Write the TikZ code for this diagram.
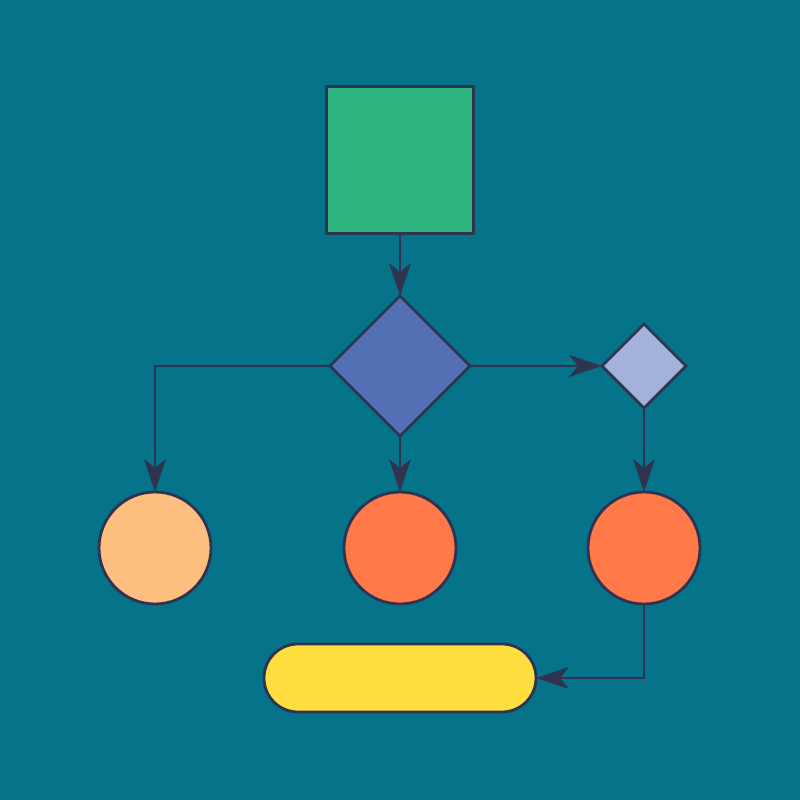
\documentclass[tikz,border=0pt]{standalone}
\usetikzlibrary{shapes.geometric,shapes.misc,arrows.meta}
\definecolor{bg}{HTML}{05748A}
\definecolor{ink}{HTML}{2E3350}
\definecolor{cgreen}{HTML}{2DB47F}
\definecolor{cblue}{HTML}{5470B5}
\definecolor{clblue}{HTML}{A3B2D9}
\definecolor{cpeach}{HTML}{FDBF7F}
\definecolor{corange}{HTML}{FF7A48}
\definecolor{cyellow}{HTML}{FFDF40}
\tikzset{
  shp/.style={draw=ink,line width=2.8pt,inner sep=0pt,outer sep=0pt},
  sqbox/.style={shp,rectangle,fill=cgreen,minimum width=147pt,minimum height=147pt},
  bigdia/.style={shp,diamond,fill=cblue,minimum width=140pt,minimum height=140pt},
  smalldia/.style={shp,diamond,fill=clblue,minimum width=84pt,minimum height=84pt},
  circ/.style={shp,circle,minimum size=112pt},
  pill/.style={shp,rounded rectangle,fill=cyellow,minimum width=272pt,minimum height=68pt},
  conn/.style={draw=ink,line width=2.8pt,-{Stealth[length=33pt,width=22pt,inset=9pt]}}
}
\begin{document}
\begin{tikzpicture}[x=1pt,y=-1pt]
\fill[bg] (0,0) rectangle (800,800);
\useasboundingbox (0,0) rectangle (800,800);
\node[sqbox] (sq) at (400,160) {};
\node[bigdia] (d) at (400,366) {};
\node[smalldia] (sd) at (644,366) {};
\node[circ,fill=cpeach] (c1) at (155,548) {};
\node[circ,fill=corange] (c2) at (400,548) {};
\node[circ,fill=corange] (c3) at (644,548) {};
\node[pill] (p) at (400,678) {};
\draw[conn] (sq.south) -- (d.north);
\draw[conn] (d.west) -| (c1.north);
\draw[conn] (d.south) -- (c2.north);
\draw[conn] (d.east) -- (sd.west);
\draw[conn] (sd.south) -- (c3.north);
\draw[conn] (c3.south) |- (p.east);
\end{tikzpicture}
\end{document}
